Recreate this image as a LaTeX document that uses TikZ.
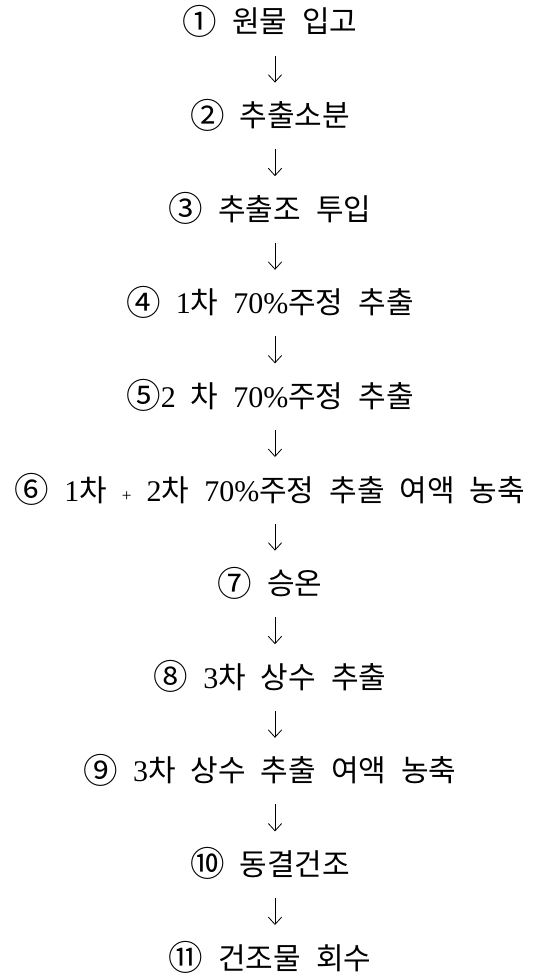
\documentclass[tikz,border=0pt]{standalone}
\usepackage{fontspec}
\setmainfont{Liberation Serif}
\newfontfamily\kr{Noto Sans CJK KR}
\usetikzlibrary{arrows.meta}
\newcommand\lt[1]{{\rmfamily #1}}
\newcommand\gp{\hspace{0.5em}}
\newcommand\cn[1]{\raisebox{-0.05em}{\scalebox{1.15}{#1}}}
\tikzset{
  stepbox/.style={anchor=base, inner sep=0pt, font=\kr\fontsize{22.5}{26}\selectfont},
  flow/.style={line width=0.6pt, -{Straight Barb[length=5.5pt,width=10pt,line width=0.6pt]},
    shorten <=17pt, shorten >=33pt}
}
\begin{document}
\begin{tikzpicture}[x=0.75pt,y=-0.75pt]
\useasboundingbox (0,0) rectangle (540,977);
\def\dy{93.6}
\node[stepbox] (s1) at (270,33) {\cn{①}\gp 원물\gp 입고};
\node[stepbox] (s2) at (270,33+\dy) {\cn{②}\gp 추출소분};
\node[stepbox] (s3) at (270,33+2*\dy) {\cn{③}\gp 추출조\gp 투입};
\node[stepbox] (s4) at (270,33+3*\dy) {\cn{④}\gp \lt{1}차\gp \lt{70\%}주정\gp 추출};
\node[stepbox] (s5) at (270,33+4*\dy) {\cn{⑤}\lt{2}\gp 차\gp \lt{70\%}주정\gp 추출};
\node[stepbox] (s6) at (270,33+5*\dy) {\cn{⑥}\gp \lt{1}차\gp \lt{\fontsize{13}{13}\selectfont +}\gp \lt{2}차\gp \lt{70\%}주정\gp 추출\gp 여액\gp 농축};
\node[stepbox] (s7) at (270,33+6*\dy) {\cn{⑦}\gp 승온};
\node[stepbox] (s8) at (270,33+7*\dy) {\cn{⑧}\gp \lt{3}차\gp 상수\gp 추출};
\node[stepbox] (s9) at (270,33+8*\dy) {\cn{⑨}\gp \lt{3}차\gp 상수\gp 추출\gp 여액\gp 농축};
\node[stepbox] (s10) at (270,33+9*\dy) {\cn{⑩}\gp 동결건조};
\node[stepbox] (s11) at (270,33+10*\dy) {\cn{⑪}\gp 건조물\gp 회수};
\foreach \a/\b in {s1/s2,s2/s3,s3/s4,s4/s5,s5/s6,s6/s7,s7/s8,s8/s9,s9/s10,s10/s11}
  \draw[flow] ([xshift=3.75pt]\a.base) -- ([xshift=3.75pt]\b.base);
\end{tikzpicture}
\end{document}
